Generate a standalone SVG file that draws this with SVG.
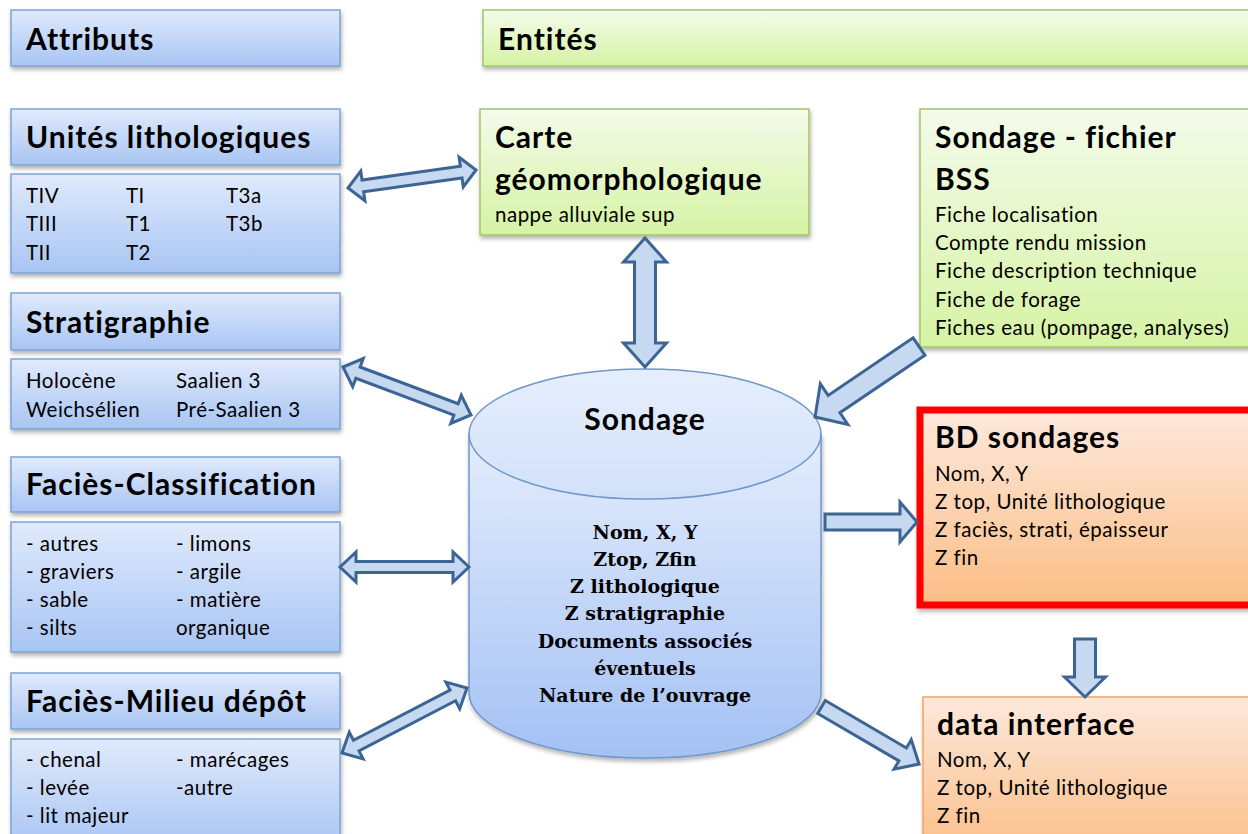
<svg xmlns="http://www.w3.org/2000/svg" width="1248" height="834" viewBox="0 0 1248 834">
<defs>
<linearGradient id="gBlue" x1="0" y1="0" x2="0" y2="1">
<stop offset="0" stop-color="#e0eafc"/><stop offset="1" stop-color="#a8c5f3"/>
</linearGradient>
<linearGradient id="gGreen" x1="0" y1="0" x2="0" y2="1">
<stop offset="0" stop-color="#f4fbea"/><stop offset="1" stop-color="#d5f3a4"/>
</linearGradient>
<linearGradient id="gOrange" x1="0" y1="0" x2="0" y2="1">
<stop offset="0" stop-color="#fde9dc"/><stop offset="1" stop-color="#fbbd85"/>
</linearGradient>
<linearGradient id="gCyl" x1="0" y1="0" x2="0" y2="1">
<stop offset="0" stop-color="#e4edfc"/><stop offset="1" stop-color="#a4c1f4"/>
</linearGradient>
<linearGradient id="gCylTop" x1="0" y1="0" x2="0" y2="1">
<stop offset="0" stop-color="#e6eefc"/><stop offset="1" stop-color="#d2e1fa"/>
</linearGradient>
<filter id="sh" x="-10%" y="-10%" width="130%" height="140%">
<feDropShadow dx="1" dy="3" stdDeviation="2" flood-color="#000" flood-opacity="0.3"/>
</filter>
<style>
.blue{fill:url(#gBlue);stroke:#7ea3d4;stroke-width:1.5;filter:url(#sh)}
.green{fill:url(#gGreen);stroke:#a2c565;stroke-width:1.5;filter:url(#sh)}
.orange{fill:url(#gOrange);stroke:#f7a360;stroke-width:1.5;filter:url(#sh)}
.red{fill:url(#gOrange);stroke:#ff0000;stroke-width:7;filter:url(#sh)}
.h{font-family:Lato,"Liberation Sans",sans-serif;font-weight:bold;font-size:30px;letter-spacing:1px;fill:#000}
.t{font-family:Lato,"Liberation Sans",sans-serif;font-size:20.5px;letter-spacing:0.5px;fill:#000}
.s{font-family:"DejaVu Serif","Liberation Serif",serif;font-weight:bold;font-size:19px;fill:#000;text-anchor:middle}
.arr{fill:#c6d9f0;stroke:#3c6595;stroke-width:3;stroke-linejoin:miter}
</style>
</defs>

<g id="attributs">
<rect class="blue" x="11" y="10" width="329" height="56"/>
<text class="h" x="26" y="50">Attributs</text>
</g>

<g id="unites-header">
<rect class="blue" x="11" y="109" width="329" height="56"/>
<text class="h" x="26" y="148">Unités lithologiques</text>
</g>
<g id="unites-content">
<rect class="blue" x="11" y="174" width="329" height="99"/>
<text class="t" x="26" y="203">TIV</text>
<text class="t" x="26" y="231">TIII</text>
<text class="t" x="26" y="260">TII</text>
<text class="t" x="126" y="203">TI</text>
<text class="t" x="126" y="231">T1</text>
<text class="t" x="126" y="260">T2</text>
<text class="t" x="226" y="203">T3a</text>
<text class="t" x="226" y="231">T3b</text>
</g>

<g id="strati-header">
<rect class="blue" x="11" y="293" width="329" height="57"/>
<text class="h" x="26" y="333">Stratigraphie</text>
</g>
<g id="strati-content">
<rect class="blue" x="11" y="359" width="329" height="70"/>
<text class="t" x="26" y="388">Holocène</text>
<text class="t" x="26" y="417">Weichsélien</text>
<text class="t" x="176" y="388">Saalien 3</text>
<text class="t" x="176" y="417">Pré-Saalien 3</text>
</g>

<g id="classif-header">
<rect class="blue" x="11" y="457" width="329" height="55"/>
<text class="h" x="26" y="495">Faciès-Classification</text>
</g>
<g id="classif-content">
<rect class="blue" x="11" y="522" width="329" height="130"/>
<text class="t" x="26" y="551">- autres</text>
<text class="t" x="26" y="579">- graviers</text>
<text class="t" x="26" y="607">- sable</text>
<text class="t" x="26" y="635">- silts</text>
<text class="t" x="176" y="551">- limons</text>
<text class="t" x="176" y="579">- argile</text>
<text class="t" x="176" y="607">- matière</text>
<text class="t" x="176" y="635">organique</text>
</g>

<g id="milieu-header">
<rect class="blue" x="11" y="673" width="329" height="56"/>
<text class="h" x="26" y="712">Faciès-Milieu dépôt</text>
</g>
<g id="milieu-content">
<rect class="blue" x="11" y="739" width="329" height="110"/>
<text class="t" x="26" y="767">- chenal</text>
<text class="t" x="26" y="795">- levée</text>
<text class="t" x="26" y="823">- lit majeur</text>
<text class="t" x="176" y="767">- marécages</text>
<text class="t" x="176" y="795">-autre</text>
</g>

<g id="entites">
<rect class="green" x="483" y="10" width="780" height="56"/>
<text class="h" x="498" y="50">Entités</text>
</g>

<g id="carte">
<rect class="green" x="480" y="109" width="329" height="126"/>
<text class="h" x="495" y="148">Carte</text>
<text class="h" x="495" y="190">géomorphologique</text>
<text class="t" x="495" y="222">nappe alluviale sup</text>
</g>

<g id="bss">
<rect class="green" x="920" y="109" width="340" height="238"/>
<text class="h" x="935" y="148">Sondage - fichier</text>
<text class="h" x="935" y="190">BSS</text>
<text class="t" x="935" y="222">Fiche localisation</text>
<text class="t" x="935" y="250">Compte rendu mission</text>
<text class="t" x="935" y="278">Fiche description technique</text>
<text class="t" x="935" y="307">Fiche de forage</text>
<text class="t" x="935" y="335">Fiches eau (pompage, analyses)</text>
</g>

<g id="sondage">
<path d="M469,434 L469,693 A176,65 0 0 0 821,693 L821,434 Z" fill="url(#gCyl)" stroke="#7097cc" stroke-width="1.5" filter="url(#sh)"/>
<ellipse cx="645" cy="434" rx="176" ry="65" fill="url(#gCylTop)" stroke="#7097cc" stroke-width="1.5"/>
<text class="h" x="645" y="430" text-anchor="middle">Sondage</text>
<text class="s" x="645" y="539">Nom, X, Y</text>
<text class="s" x="645" y="566">Ztop, Zfin</text>
<text class="s" x="645" y="593">Z lithologique</text>
<text class="s" x="645" y="620">Z stratigraphie</text>
<text class="s" x="645" y="648">Documents associés</text>
<text class="s" x="645" y="675">éventuels</text>
<text class="s" x="645" y="702">Nature de l’ouvrage</text>
</g>

<g id="bd-sondages">
<rect class="red" x="920" y="410" width="340" height="195"/>
<text class="h" x="935" y="448">BD sondages</text>
<text class="t" x="935" y="481">Nom, X, Y</text>
<text class="t" x="935" y="509">Z top, Unité lithologique</text>
<text class="t" x="935" y="537">Z faciès, strati, épaisseur</text>
<text class="t" x="935" y="565">Z fin</text>
</g>

<g id="data-interface">
<rect class="orange" x="923" y="697" width="340" height="160"/>
<text class="h" x="937" y="735">data interface</text>
<text class="t" x="937" y="767">Nom, X, Y</text>
<text class="t" x="937" y="795">Z top, Unité lithologique</text>
<text class="t" x="937" y="823">Z fin</text>
</g>

<g id="connectors">
<path class="arr" transform="translate(348,188) rotate(-8)" d="M0,0 L15,-15 L15,-6 L114.3,-6 L114.3,-15 L129.3,0 L114.3,15 L114.3,6 L15,6 L15,15 Z"/>
<path class="arr" transform="translate(645,238) rotate(90)" d="M0,0 L24,-21.5 L24,-10.5 L105,-10.5 L105,-21.5 L129,0 L105,21.5 L105,10.5 L24,10.5 L24,21.5 Z"/>
<path class="arr" transform="translate(343,367) rotate(20.56)" d="M0,0 L16,-15 L16,-6 L120.7,-6 L120.7,-15 L136.7,0 L120.7,15 L120.7,6 L16,6 L16,15 Z"/>
<path class="arr" transform="translate(340,567)" d="M0,0 L16,-15 L16,-5.5 L113,-5.5 L113,-15 L129,0 L113,15 L113,5.5 L16,5.5 L16,15 Z"/>
<path class="arr" transform="translate(342,753) rotate(-27.47)" d="M0,0 L16,-15 L16,-6 L124.9,-6 L124.9,-15 L140.9,0 L124.9,15 L124.9,6 L16,6 L16,15 Z"/>
<path class="arr" transform="translate(919,346.5) rotate(145.87)" d="M0,-10.5 L102.6,-10.5 L102.6,-24.5 L125.6,0 L102.6,24.5 L102.6,10.5 L0,10.5 Z"/>
<path class="arr" transform="translate(825,522)" d="M0,-8 L75,-8 L75,-20 L92,0 L75,20 L75,8 L0,8 Z"/>
<path class="arr" transform="translate(1085,639) rotate(90)" d="M0,-10.5 L38,-10.5 L38,-20.5 L58,0 L38,20.5 L38,10.5 L0,10.5 Z"/>
<path class="arr" transform="translate(821.5,707) rotate(30.3)" d="M0,-7.5 L94,-7.5 L94,-17 L113,0 L94,17 L94,7.5 L0,7.5 Z"/>
</g>
</svg>
